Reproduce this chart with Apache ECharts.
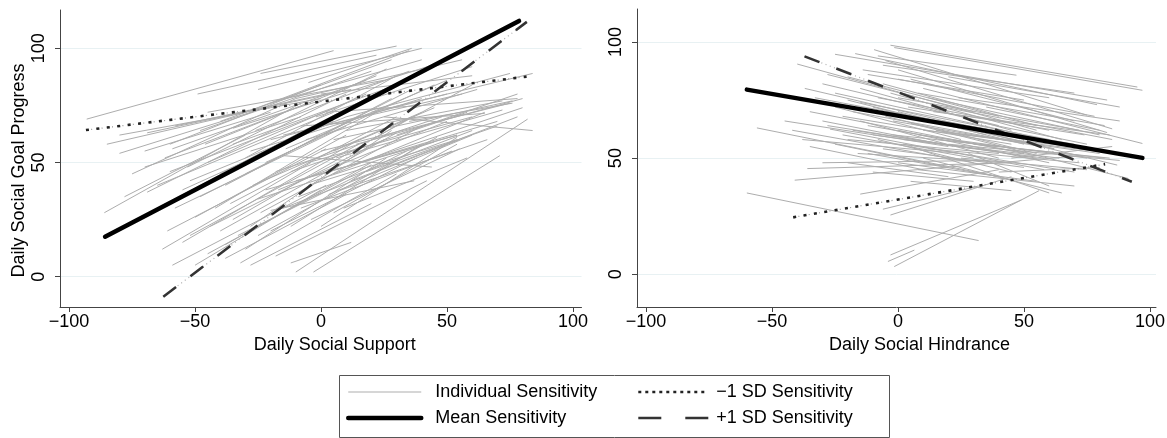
<!DOCTYPE html>
<html>
<head>
<meta charset="utf-8">
<script src="https://cdn.jsdelivr.net/npm/echarts@6/dist/echarts.min.js"></script>
<style>
  html, body { margin: 0; padding: 0; background: #fff; }
  #chart { width: 1167px; height: 438px; }
</style>
</head>
<body>
<div id="chart"></div>
<script>
// tick labels
const xTicks = [-100, -50, 0, 50, 100];
const yTicks = [0, 50, 100];

// Daily Social Support panel: per-person lines [x1, y1, x2, y2]
const supportIndividual = [
  [-93, 69, 5, 99], [-49, 80, 22, 97], [-24, 89, 30, 101], [-80, 62, 0, 78],
  [-69, 63, 12, 82], [-80, 54, -22, 74], [-59, 56, 18, 86], [-86, 28, -8, 76],
  [-69, 37, 10, 80], [-53, 48, 26, 91], [-61, 20, 2, 56], [-63, 12, -4, 50],
  [-59, 5, 2, 40], [-32, 6, 30, 45], [-18, 9, 42, 42], [-10, 2, 82, 69],
  [-3, 2, 71, 53], [-12, 6, 12, 15], [-20, 29, 37, 42], [-15, 53, 44, 48],
  [25, 70, 84, 64], [-55, 15, 15, 60], [-45, 10, 20, 49], [-40, 20, 30, 63],
  [-35, 25, 36, 70], [-30, 12, 26, 52], [-50, 26, 10, 62], [-25, 18, 46, 61],
  [-42, 30, 22, 72], [-38, 40, 28, 78], [-30, 45, 36, 82], [-22, 38, 54, 62],
  [-15, 30, 55, 60], [-10, 42, 54, 62], [-5, 50, 60, 70], [0, 55, 75, 76],
  [5, 60, 76, 77], [10, 64, 72, 77], [-8, 66, 65, 71.5], [2, 72, 78, 78],
  [-20, 60, 50, 80], [-28, 55, 40, 78], [-35, 58, 30, 84], [-45, 50, 18, 80],
  [-60, 46, 6, 74], [-55, 38, 5, 68], [-65, 30, -5, 65], [-48, 64, 20, 90],
  [-40, 68, 28, 95], [-30, 72, 35, 99], [-20, 76, 40, 95], [-10, 78, 56, 95],
  [0, 80, 60, 88], [10, 70, 75, 89], [20, 72, 84, 89], [-35, 65, 48, 94],
  [-15, 62, 56, 80], [-5, 40, 54, 60], [5, 45, 65, 72], [15, 50, 80, 74],
  [12, 42, 78, 70], [-25, 34, 45, 59], [-12, 22, 40, 58], [-38, 14, 20, 50],
  [-28, 22, 28, 64], [-52, 42, 10, 70], [-45, 72, 25, 86], [-58, 66, 2, 80],
  [-70, 48, -8, 70], [-25, 82, 40, 100], [-5, 85, 36, 100], [5, 55, 45, 74],
  [20, 60, 60, 84], [30, 62, 78, 80], [-18, 46, 48, 70], [-8, 30, 52, 55],
  [8, 38, 66, 60], [-50, 5, 0, 38], [0, 22, 54, 61], [5, 28, 54, 58],
  [-60, 58, 0, 84], [35, 68, 76, 76], [-2, 70, 60, 92],
  [-75, 45, -10, 78], [-65, 40, 5, 72], [-58, 30, 10, 66], [-52, 18, 15, 58],
  [-48, 35, 15, 70], [-44, 22, 25, 60], [-40, 45, 25, 82], [-36, 32, 30, 70],
  [-33, 18, 34, 55], [-30, 52, 30, 88], [-27, 40, 40, 72], [-24, 28, 40, 66],
  [-22, 50, 45, 84], [-20, 20, 38, 52], [-17, 38, 50, 68], [-14, 56, 50, 86],
  [-12, 46, 58, 72], [-9, 35, 60, 64], [-6, 60, 62, 82], [-4, 25, 55, 56],
  [0, 45, 70, 68], [3, 36, 60, 62], [6, 52, 72, 73], [9, 30, 58, 52],
  [14, 58, 80, 78], [18, 46, 70, 66], [-62, 52, -5, 76], [-46, 58, 22, 88],
  [-70, 55, -20, 72], [-85, 58, -30, 72], [-78, 35, -30, 62], [-26, 64, 35, 90],
  [-38, 8, 10, 36], [-28, 5, 20, 32]
];
const supportMean = [[-85.7, 17.5], [78.6, 112]];
const supportMinus = [[-93.3, 64.2], [81.6, 87.6]];
const supportPlus = [[-62.6, -8.8], [81.7, 111.6]];

// Daily Social Hindrance panel
const hindranceIndividual = [
  [-3, 98.6, 95, 80.6], [-1.5, 97.6, 97, 79.2], [-60, 35, 32, 14.5], [-3, 8.3, 49, 32],
  [-1.5, 3.3, 56, 36], [-4, 5.5, 6.5, 10.4], [-41, 40.5, 72, 51], [-56, 63, 40, 42],
  [-40, 90.5, 55, 62], [-37, 80, 50, 58], [-42, 62, 30, 48], [-35, 70, 50, 52],
  [-27, 62.5, 58, 45], [-15, 34.5, 40, 45], [-6, 28, 32, 38], [-3, 25.5, 45, 42],
  [-36, 45.5, 45, 48], [-30, 48, 35, 49], [-25, 94.7, 83, 75], [-17, 95, 79, 73],
  [-9.5, 96.7, 75, 68.5], [-5, 92, 85, 62.6], [0, 88, 83, 61], [10, 80, 97, 56.3],
  [-8, 94, 47, 85.7], [0, 70, 87, 47], [5, 65, 91.5, 41.2], [10, 50, 65, 35],
  [5, 55, 60, 35], [-20, 85, 40, 68], [-28, 86, 30, 70], [-15, 80, 45, 62],
  [-20, 75, 35, 60], [-25, 72, 25, 58], [-10, 72, 50, 56], [-5, 68, 55, 52],
  [0, 62, 60, 48], [-15, 66, 40, 50], [-22, 60, 30, 50], [-8, 58, 45, 44],
  [-12, 52, 40, 42], [2, 56, 70, 44], [8, 60, 75, 50], [-3, 78, 65, 58],
  [5, 84, 70, 66], [12, 76, 80, 60], [18, 72, 85, 58], [-6, 82, 55, 64],
  [-18, 70, 42, 58], [-30, 66, 22, 55], [0, 48, 55, 40], [8, 45, 70, 38],
  [-10, 44, 30, 40], [15, 62, 80, 52], [20, 56, 88, 49], [-2, 60, 40, 55],
  [25, 50, 75, 45], [-25, 56, 20, 46], [30, 66, 75, 56], [35, 72, 80, 62],
  [22, 64, 62, 54], [-12, 86, 50, 75], [0, 76, 72, 62], [28, 52, 60, 38],
  [40, 44, 80, 46], [45, 50, 85, 55], [-35, 55, 10, 45],
  [-30, 82, 40, 64], [-25, 78, 50, 60], [-22, 68, 45, 56], [-18, 62, 55, 50],
  [-15, 74, 60, 58], [-12, 64, 52, 52], [-10, 60, 58, 50], [-8, 76, 60, 62],
  [-6, 54, 50, 46], [-4, 70, 66, 56], [-2, 66, 62, 54], [0, 84, 78, 68],
  [2, 58, 64, 50], [4, 72, 74, 60], [6, 68, 70, 56], [8, 78, 82, 64],
  [10, 62, 78, 54], [12, 54, 72, 48], [14, 70, 84, 60], [16, 58, 82, 50],
  [18, 66, 76, 54], [-20, 58, 40, 52], [-16, 52, 44, 48], [-28, 64, 30, 54],
  [-33, 76, 35, 62], [-45, 66, 20, 55], [-38, 58, 25, 52], [24, 76, 88, 66],
  [26, 60, 86, 52], [30, 56, 84, 50], [-14, 88, 60, 76], [-6, 90, 70, 78],
  [20, 85, 88, 72], [5, 40, 45, 36], [-20, 48, 20, 42]
];
const hindranceMean = [[-60, 79.5], [97, 50.1]];
const hindranceMinus = [[-41.6, 24.5], [82.2, 47.4]];
const hindrancePlus = [[-37.1, 93.8], [92.8, 39.8]];

const FONT = 'Liberation Sans';
const minus = v => String(v).replace('-', '\u2212');

function individualSeries(segs, idx) {
  return segs.map(s => ({
    type: 'line',
    name: 'Individual Sensitivity',
    xAxisIndex: idx,
    yAxisIndex: idx,
    data: [[s[0], s[1]], [s[2], s[3]]],
    symbol: 'none',
    silent: true,
    z: 2,
    lineStyle: { color: '#adadad', width: 1 },
  }));
}

function summarySeries(mean, lo, hi, idx) {
  const base = { type: 'line', xAxisIndex: idx, yAxisIndex: idx, symbol: 'none', silent: true };
  return [
    // faint dots between the dashes
    { ...base, data: lo, z: 4, lineStyle: { color: '#9a9a9a', width: 1.2, type: [1, 4.25] } },
    { ...base, data: hi, z: 4, lineStyle: { color: '#b0b0b0', width: 1.2, type: [1, 3.5] } },
    { ...base, name: 'Mean Sensitivity', data: mean, z: 6, lineStyle: { color: '#000', width: 4.5, cap: 'round' } },
    { ...base, name: '\u22121 SD Sensitivity', data: lo, z: 5, lineStyle: { color: '#222', width: 2.6, type: [3, 7.5] } },
    { ...base, name: '+1 SD Sensitivity', data: hi, z: 5, lineStyle: { color: '#333', width: 2.6, type: [16, 18] } },
  ];
}

function xAxis(idx, min, max, name, shift) {
  return {
    type: 'value', gridIndex: idx, min: min, max: max,
    name: name, nameLocation: 'middle', nameGap: 25,
    nameTextStyle: { fontFamily: FONT, fontSize: 18, color: '#000', padding: [0, 0, 0, shift] },
    axisLine: { show: true, onZero: false, lineStyle: { color: '#444', width: 1 } },
    axisTick: { show: true, length: 5, customValues: xTicks, lineStyle: { color: '#444' } },
    axisLabel: { customValues: xTicks, margin: 6, fontFamily: FONT, fontSize: 18, color: '#000', formatter: minus },
    splitLine: { show: false },
  };
}

function yAxis(idx, min, max, name) {
  return {
    type: 'value', gridIndex: idx, min: min, max: max,
    name: name, nameLocation: 'middle', nameGap: 32,
    nameTextStyle: { fontFamily: FONT, fontSize: 18, color: '#000', padding: [0, 24, 0, 0] },
    axisLine: { show: true, onZero: false, lineStyle: { color: '#444', width: 1 } },
    axisTick: { show: true, length: 5, customValues: yTicks, lineStyle: { color: '#444' } },
    axisLabel: { customValues: yTicks, rotate: 90, margin: 12, fontFamily: FONT, fontSize: 18, color: '#000' },
    splitLine: { show: true, lineStyle: { color: '#e8f1f3', width: 1 } },
  };
}

const chart = echarts.init(document.getElementById('chart'), null, { renderer: 'canvas' });

const legendBase = {
  orient: 'vertical', top: 382, itemHeight: 14, itemGap: 6, selectedMode: false,
  padding: 0, lineStyle: { width: 'inherit' },
  itemStyle: { opacity: 0, color: 'transparent', borderWidth: 0 },
  textStyle: { fontFamily: FONT, fontSize: 18, color: '#000', lineHeight: 20 },
};

chart.setOption({
  animation: false,
  backgroundColor: '#fff',
  grid: [
    { left: 60, top: 10, width: 521.5, height: 297, outerBoundsMode: 'none' },
    { left: 637, top: 9, width: 519, height: 298, outerBoundsMode: 'none' },
  ],
  xAxis: [
    xAxis(0, -103.6, 103.4, 'Daily Social Support', 28),
    xAxis(1, -103.6, 102.4, 'Daily Social Hindrance', 46),
  ],
  yAxis: [
    yAxis(0, -13.3, 116.8, 'Daily Social Goal Progress'),
    yAxis(1, -14.1, 114.2, ''),
  ],
  legend: [
    { ...legendBase, left: 346, itemWidth: 73,
      textStyle: { ...legendBase.textStyle, padding: [0, 0, 0, 9] },
      data: ['Individual Sensitivity', 'Mean Sensitivity'] },
    { ...legendBase, left: 637, itemWidth: 70,
      textStyle: { ...legendBase.textStyle, padding: [0, 0, 0, 3] },
      data: [
        { name: '\u22121 SD Sensitivity', lineStyle: { type: [3, 4] } },
        { name: '+1 SD Sensitivity', lineStyle: { type: [23, 24] } },
      ] },
  ],
  graphic: [{
    type: 'rect', left: 337, top: 373, silent: true,
    shape: { x: 0.5, y: 0.5, width: 550, height: 62 },
    style: { fill: 'none', stroke: '#555', lineWidth: 1 },
  }],
  series: [
    ...individualSeries(supportIndividual, 0),
    ...individualSeries(hindranceIndividual, 1),
    ...summarySeries(supportMean, supportMinus, supportPlus, 0),
    ...summarySeries(hindranceMean, hindranceMinus, hindrancePlus, 1),
  ],
});
</script>
</body>
</html>
